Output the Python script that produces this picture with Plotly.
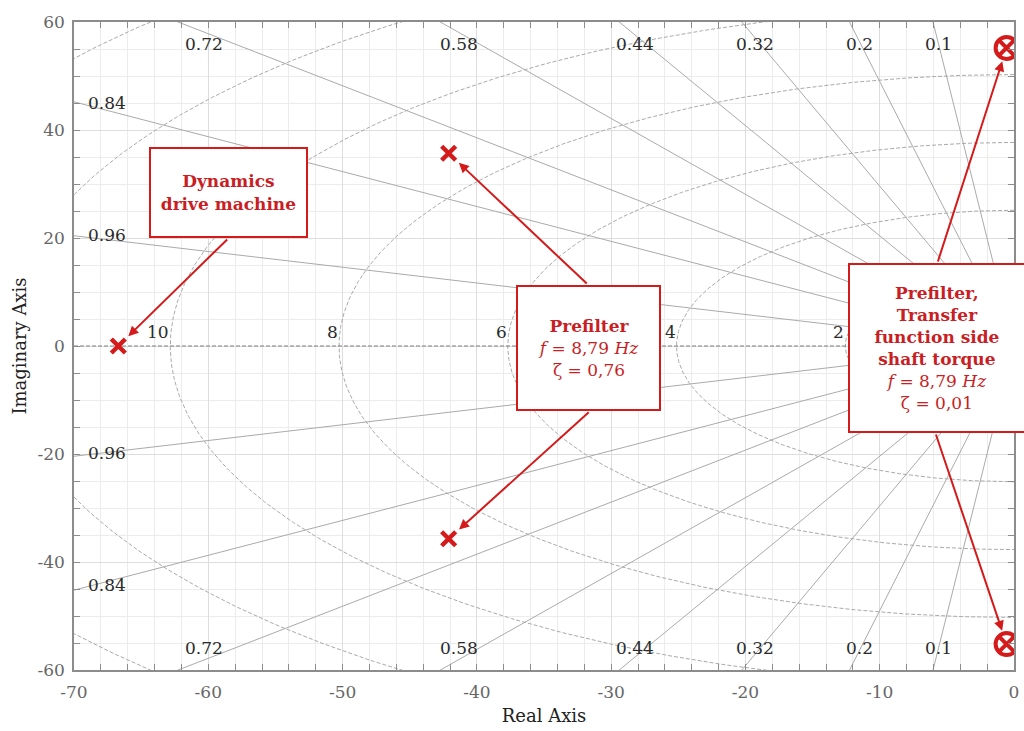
import numpy as np
import plotly.graph_objects as go

# ---------------- data ----------------
damping_ratios = [0.1, 0.2, 0.32, 0.44, 0.58, 0.72, 0.84, 0.96]
natural_freqs_hz = [2, 4, 6, 8, 10, 12, 14]          # grid circles (Hz)
labelled_freqs_hz = [2, 4, 6, 8, 10]                  # labelled on the real axis

drive_re = [-66.7]
drive_im = [0.0]
prefilter_re = [-42.1, -42.1]
prefilter_im = [35.7, -35.7]
shaft_re = [-0.55, -0.55]
shaft_im = [55.2, -55.2]

x_tick_vals = [-70, -60, -50, -40, -30, -20, -10, 0]
x_tick_text = ["-70", "-60", "-50", "-40", "-30", "-20", "-10", "0"]
y_tick_vals = [-60, -40, -20, 0, 20, 40, 60]
y_tick_text = ["-60", "-40", "-20", "0", "20", "40", "60"]

txt_drive = "<b>Dynamics<br>drive machine</b>"
txt_prefilter = "<b>Prefilter</b><br><i>f</i> = 8,79 <i>Hz</i><br>ζ = 0,76"
txt_shaft = ("<b>Prefilter,<br>Transfer<br>function side<br>shaft torque</b>"
             "<br><i>f</i> = 8,79 <i>Hz</i><br>ζ = 0,01")

# ---------------- layout constants ----------------
W, H = 1024, 731
ML, MR, MT, MB = 74, 5, 22, 61
XR = [-70, 0]
YR = [-60, 60]
FONT = "DejaVu Serif"
RED = "#d41a1a"
RED_TXT = "#c81e24"
GRAY_LINE = "#aaaaaa"


def px2x(px):
    return XR[0] + (px - ML) / (W - ML - MR) * (XR[1] - XR[0])


def py2y(py):
    return YR[1] - (py - MT) / (H - MT - MB) * (YR[1] - YR[0])


fig = go.Figure()

# damping-ratio lines
for z in damping_ratios:
    R = 200
    wd = np.sqrt(1 - z ** 2)
    fig.add_trace(go.Scatter(x=[-R * z, 0, -R * z], y=[R * wd, 0, -R * wd],
                             mode="lines", line=dict(color=GRAY_LINE, width=1),
                             hoverinfo="skip", showlegend=False))

# natural-frequency circles
th = np.linspace(np.pi / 2, 3 * np.pi / 2, 400)
for f in natural_freqs_hz:
    wn = 2 * np.pi * f
    fig.add_trace(go.Scatter(x=wn * np.cos(th), y=wn * np.sin(th), mode="lines",
                             line=dict(color="#aaaaaa", width=1, dash="4px,2px"),
                             hoverinfo="skip", showlegend=False))

# real axis
fig.add_trace(go.Scatter(x=[XR[0], XR[1]], y=[0, 0], mode="lines",
                         line=dict(color="#808080", width=1, dash="4px,2px"),
                         hoverinfo="skip", showlegend=False))

# poles
fig.add_trace(go.Scatter(x=drive_re + prefilter_re, y=drive_im + prefilter_im, mode="markers",
                         marker=dict(symbol="x-thin", size=14, line=dict(color=RED, width=4.5)),
                         showlegend=False))
fig.add_trace(go.Scatter(x=shaft_re, y=shaft_im, mode="markers",
                         marker=dict(symbol="circle-x-open", size=22, color=RED,
                                     line=dict(color=RED, width=4)),
                         showlegend=False))

ann = []
lab_font = dict(family=FONT, size=17, color="#2a2a2a")
# damping labels top / bottom
for z in damping_ratios:
    wd = np.sqrt(1 - z ** 2)
    if z <= 0.75:
        for s in (1, -1):
            yl = 56 * s
            xl = -abs(yl) * z / wd
            ann.append(dict(x=xl, y=yl, xref="x", yref="y", text=f"{z:g}", showarrow=False,
                            xanchor="center", yanchor="middle",
                            xshift=-(60 * z ** 2 - 1), font=lab_font))
    else:
        xl = -69.1
        for s in (1, -1):
            yl = s * (-xl) * wd / z
            ann.append(dict(x=xl, y=yl, xref="x", yref="y", text=f"{z:g}", showarrow=False,
                            xanchor="left", yanchor="middle", yshift=2, font=lab_font))
# frequency labels
for f in labelled_freqs_hz:
    ann.append(dict(x=-2 * np.pi * f, y=0, xref="x", yref="y", text=str(f), showarrow=False,
                    xanchor="right", yanchor="bottom", xshift=1, yshift=2, font=lab_font))

# boxes (pixel geometry)
boxes = [
    (txt_drive, 229.5, 192.5, 159, 91),
    (txt_prefilter, 591, 348, 145, 126),
    (txt_shaft, 942, 348, 178, 170),
]

# arrows: (pole x, pole y, tail pixel x, tail pixel y)
arrows = [
    (drive_re[0], drive_im[0], 229.5, 192.5 + 91 / 2),
    (prefilter_re[0], prefilter_im[0], 591, 348 - 126 / 2),
    (prefilter_re[1], prefilter_im[1], 593, 348 + 126 / 2),
    (shaft_re[0], shaft_im[0], 942, 348 - 170 / 2),
    (shaft_re[1], shaft_im[1], 940, 348 + 170 / 2),
]
for px, py, tx, ty in arrows:
    ann.append(dict(x=px, y=py, xref="x", yref="y", ax=px2x(tx), ay=py2y(ty),
                    axref="x", ayref="y", text="", showarrow=True, arrowhead=2,
                    arrowsize=1.0, arrowwidth=2, arrowcolor=RED, standoff=14))

for text, cx, cy, bw, bh in boxes:
    ann.append(dict(x=px2x(cx), y=py2y(cy), xref="x", yref="y", text=text, showarrow=False,
                    xanchor="center", yanchor="middle", width=bw - 4, height=bh - 4,
                    align="center", valign="middle", borderpad=0,
                    bordercolor=RED, borderwidth=2, bgcolor="white",
                    font=dict(family=FONT, size=17, color=RED_TXT)))

axis_common = dict(showline=True, linecolor="#8c8c8c", linewidth=1.5, mirror="ticks",
                   ticks="inside", ticklen=6, tickcolor="#8c8c8c", tickwidth=1,
                   showgrid=True, gridcolor="#dddddd", gridwidth=1, zeroline=False,
                   tickfont=dict(family=FONT, size=17, color="#666666"))

fig.update_layout(
    width=W, height=H,
    margin=dict(l=ML, r=MR, t=MT, b=MB),
    plot_bgcolor="white", paper_bgcolor="white",
    annotations=ann,
    xaxis=dict(range=XR, tickvals=x_tick_vals, ticktext=x_tick_text,
               minor=dict(dtick=2, ticks="inside", ticklen=6, tickcolor="#8c8c8c",
                          showgrid=True, gridcolor="#ececec"),
               title=dict(text="Real Axis", font=dict(family=FONT, size=18, color="#222222"),
                          standoff=8),
               ticklabelstandoff=6, **axis_common),
    yaxis=dict(range=YR, tickvals=y_tick_vals, ticktext=y_tick_text,
               minor=dict(dtick=5, ticks="inside", ticklen=6, tickcolor="#8c8c8c",
                          showgrid=True, gridcolor="#ececec"),
               title=dict(text="Imaginary Axis", font=dict(family=FONT, size=18, color="#222222"),
                          standoff=6),
               ticklabelstandoff=4, **axis_common),
)

fig.write_html("out.html")
